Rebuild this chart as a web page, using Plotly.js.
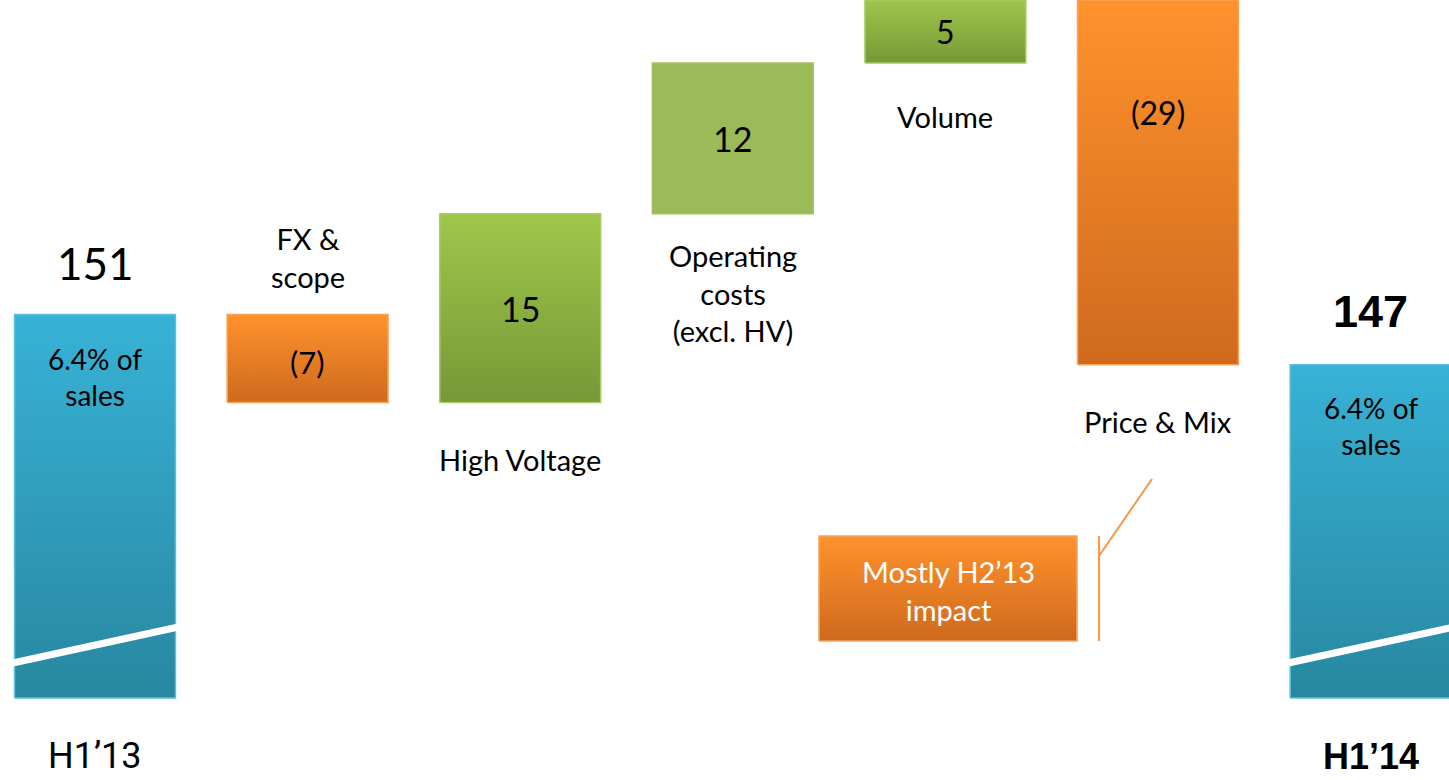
<!DOCTYPE html>
<html>
<head>
<meta charset="utf-8">
<script src="https://cdn.plot.ly/plotly-3.0.1.min.js"></script>
<style>
html,body{margin:0;padding:0;background:#fff;}
#chart{width:1449px;height:780px;}
</style>
</head>
<body>
<div id="chart"></div>
<script>
// ---------------- data ----------------
const categories = ['H1’13', 'FX &<br>scope', 'High Voltage', 'Operating<br>costs<br>(excl. HV)', 'Volume', 'Price & Mix', 'H1’14'];
const startValue = 151;
const deltas = [-7, 15, 12, 5, -29];
const endValue = 147;
const valueLabels = ['151', '(7)', '15', '12', '5', '(29)', '147'];
const shareLabels = ['6.4% of<br>sales', '6.4% of<br>sales'];
const calloutText = 'Mostly H2’13<br>impact';

// ---------------- layout constants ----------------
const W = 1449, H = 780;
const pxPerUnit = 12.58;
const yTop = 176.0;
const yBottom = yTop - H / pxPerUnit;
const xSpacing = 212.6, x0px = 95;
const xMin = -x0px / xSpacing, xMax = (W - x0px) / xSpacing;
const barW = 0.757;
const breakBase = yTop - 698 / pxPerUnit; // axis-break base of total bars
const pxToY = p => yTop - p / pxPerUnit;
const pxToX = p => (p - x0px) / xSpacing;

const FONT = 'Lato, "Open Sans", sans-serif';
const COL = {
  blue:   {top: '#37B2D6', bot: '#2887A0', line: '#5BC0DE'},
  orange: {top: '#FF922C', bot: '#CF6A1E', line: '#F7A35C'},
  green:  {top: '#9EC74A', bot: '#779837', line: '#A9CC66'},
  flat:   {top: '#9BBB59', bot: '#9BBB59', line: '#A4C163'}
};

// cumulative levels
const levels = [startValue];
deltas.forEach(d => levels.push(levels[levels.length - 1] + d));
const bars = [];
bars.push({lo: breakBase, hi: startValue, c: COL.blue});
for (let k = 0; k < deltas.length; k++) {
  const a = levels[k], b = levels[k + 1];
  let c = deltas[k] < 0 ? COL.orange : COL.green;
  if (k === 2) c = COL.flat;
  bars.push({lo: Math.min(a, b), hi: Math.max(a, b), c: c});
}
bars.push({lo: breakBase, hi: endValue, c: COL.blue});

function rectTrace(xl, xr, lo, hi, c) {
  return {
    type: 'scatter', mode: 'lines',
    x: [xl, xr, xr, xl, xl], y: [lo, lo, hi, hi, lo],
    fill: 'toself',
    fillcolor: c.top,
    fillgradient: {type: 'vertical', colorscale: [[0, c.bot], [1, c.top]]},
    line: {color: c.line, width: 1.5},
    hoverinfo: 'skip', showlegend: false
  };
}

const traces = bars.map((b, i) => rectTrace(i - barW / 2, i + barW / 2, b.lo, b.hi, b.c));
// callout box
traces.push(rectTrace(pxToX(819), pxToX(1077), pxToY(641), pxToY(536), COL.orange));

const ann = [];
const baseFont = {family: FONT, size: 29, color: '#000'};
function A(x, y, text, yshift, font, yanchor) {
  ann.push({x: x, y: y, xref: 'x', yref: 'y', text: text, showarrow: false,
    xanchor: 'center', yanchor: yanchor || 'middle', yshift: yshift,
    font: Object.assign({}, baseFont, font || {})});
}

// totals
A(0, bars[0].hi, valueLabels[0], 52, {size: 44});
A(0, bars[0].hi, shareLabels[0], -62, {size: 28});
A(0, breakBase, categories[0], -58, {family: 'Roboto, sans-serif', size: 36});
A(6, bars[6].hi, '<b>' + valueLabels[6] + '</b>', 53, {family: '"Liberation Sans", Arial, sans-serif', size: 45});
A(6, bars[6].hi, shareLabels[1], -61, {size: 28});
A(6, breakBase, '<b>' + categories[6] + '</b>', -58, {family: '"Liberation Sans", Arial, sans-serif', size: 36});

// deltas: values inside bars
A(1, (bars[1].lo + bars[1].hi) / 2, valueLabels[1], -3, {size: 31});
A(2, (bars[2].lo + bars[2].hi) / 2, valueLabels[2], 0, {size: 34});
A(3, (bars[3].lo + bars[3].hi) / 2, valueLabels[3], 0, {size: 34});
A(4, (bars[4].lo + bars[4].hi) / 2, valueLabels[4], 0, {size: 32});
A(5, bars[5].hi, valueLabels[5], -112, {size: 32});

// category labels
A(1, bars[1].hi, categories[1], 57);
A(2, bars[2].lo, categories[2], -57);
A(3, bars[3].lo, categories[3], -79);
A(4, bars[4].lo, categories[4], -54);
A(5, bars[5].lo, categories[5], -57);

// callout text
A(pxToX(948), pxToY(590), calloutText, 0, {color: '#fff', size: 29});

// shapes: axis-break slashes and callout bracket
const shapes = [];
[0, 6].forEach(i => {
  shapes.push({type: 'line', xref: 'x', yref: 'y',
    x0: i - barW / 2 - 0.03, y0: breakBase + 2.7,
    x1: i + barW / 2 + 0.03, y1: breakBase + 5.7,
    line: {color: '#ffffff', width: 7}});
});
const lineCol = '#F79646';
shapes.push({type: 'line', xref: 'x', yref: 'y', x0: pxToX(1099), x1: pxToX(1099), y0: pxToY(536), y1: pxToY(641), line: {color: lineCol, width: 2}});
shapes.push({type: 'line', xref: 'x', yref: 'y', x0: pxToX(1099), x1: pxToX(1152), y0: pxToY(556), y1: pxToY(479), line: {color: lineCol, width: 2}});

const layout = {
  width: W, height: H,
  margin: {l: 0, r: 0, t: 0, b: 0, pad: 0},
  paper_bgcolor: '#ffffff', plot_bgcolor: '#ffffff',
  showlegend: false,
  xaxis: {range: [xMin, xMax], visible: false, fixedrange: true},
  yaxis: {range: [yBottom, yTop], visible: false, fixedrange: true},
  annotations: ann,
  shapes: shapes,
  font: {family: FONT}
};

Plotly.newPlot('chart', traces, layout, {displayModeBar: false, staticPlot: true});
</script>
</body>
</html>
